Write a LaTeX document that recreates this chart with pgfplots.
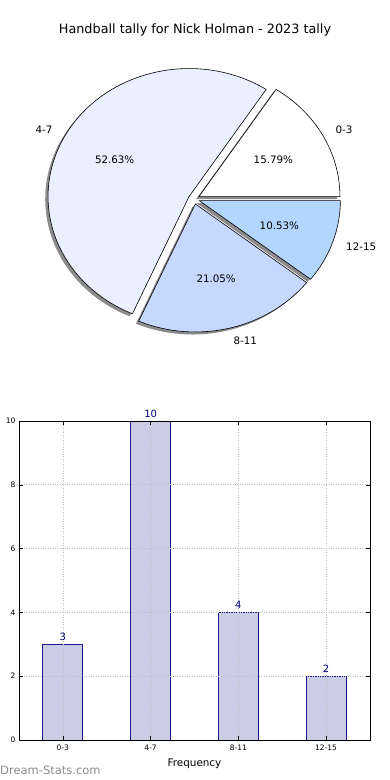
\documentclass[border=0pt]{standalone}
\usepackage{pgfplots}
\usepackage{pgfplotstable}
\pgfplotsset{compat=1.18}
\usepackage{fontspec}
\setmainfont{DejaVu Sans}

\definecolor{wA}{RGB}{255,255,255}
\definecolor{wB}{RGB}{234,240,255}
\definecolor{wC}{RGB}{198,216,255}
\definecolor{wD}{RGB}{179,214,255}
\definecolor{shadowgray}{RGB}{140,140,140}
\definecolor{barfill}{RGB}{204,204,230}
\definecolor{baredge}{RGB}{25,25,140}
\definecolor{navy}{RGB}{0,0,128}
\definecolor{wmgray}{RGB}{140,140,140}

\pgfplotstableread{
label count
0-3 3
4-7 10
8-11 4
12-15 2
}\tally

\pgfplotstablegetelem{0}{count}\of\tally \edef\nA{\pgfplotsretval}
\pgfplotstablegetelem{1}{count}\of\tally \edef\nB{\pgfplotsretval}
\pgfplotstablegetelem{2}{count}\of\tally \edef\nC{\pgfplotsretval}
\pgfplotstablegetelem{3}{count}\of\tally \edef\nD{\pgfplotsretval}
\pgfmathsetmacro\tot{\nA+\nB+\nC+\nD}
\pgfmathsetmacro\aA{360*\nA/\tot}
\pgfmathsetmacro\aB{\aA+360*\nB/\tot}
\pgfmathsetmacro\aC{\aB+360*\nC/\tot}
\pgfmathsetmacro\aD{\aC+360*\nD/\tot}

% shadow of a wedge: #1 start, #2 end
\newcommand\pieShadow[2]{%
  \fill[shadowgray] (axis cs:{0.04*cos((#1+#2)/2)-0.02},{0.04*sin((#1+#2)/2)-0.02})
    -- ++(axis direction cs:{cos(#1)},{sin(#1)})
    arc[start angle=#1,end angle=#2,x radius=141pt,y radius=128pt] -- cycle;}
% wedge: #1 start, #2 end, #3 colour, #4 label, #5 count, #6 label anchor
\newcommand\pieWedge[6]{%
  \filldraw[fill=#3,draw=black,line width=0.6pt,line join=miter] (axis cs:{0.04*cos((#1+#2)/2)},{0.04*sin((#1+#2)/2)})
    -- ++(axis direction cs:{cos(#1)},{sin(#1)})
    arc[start angle=#1,end angle=#2,x radius=141pt,y radius=128pt] -- cycle;
  \node[anchor=#6,inner sep=0pt,font=\fontsize{10.3}{12}\selectfont]
    at (axis cs:{1.14*cos((#1+#2)/2)},{1.14*sin((#1+#2)/2)}) {#4};
  \node[inner sep=0pt,font=\fontsize{10.3}{12}\selectfont]
    at (axis cs:{0.64*cos((#1+#2)/2)},{0.64*sin((#1+#2)/2)})
    {\pgfmathparse{100*#5/\tot}\pgfmathprintnumber[fixed,fixed zerofill,precision=2,assume math mode=true]{\pgfmathresult}\%};}

\begin{document}
\begin{tikzpicture}
\path[use as bounding box] (0,0) rectangle (390pt,780pt);

\node[font=\fontsize{12.8}{15}\selectfont] at (195pt,750pt) {Handball tally for Nick Holman - 2023 tally};

% ---- pie ----
\begin{axis}[at={(0pt,420pt)}, anchor=south west, scale only axis,
  width=390pt, height=320pt,
  xmin=-1.3759, xmax=1.3901, ymin=-1.2578, ymax=1.2422,
  hide axis, clip=false]
  \pieShadow{0}{\aA}
  \pieShadow{\aA}{\aB}
  \pieShadow{\aB}{\aC}
  \pieShadow{\aC}{\aD}
  \pieWedge{0}{\aA}{wA}{0-3}{\nA}{west}
  \pieWedge{\aA}{\aB}{wB}{4-7}{\nB}{east}
  \pieWedge{\aB}{\aC}{wC}{8-11}{\nC}{west}
  \pieWedge{\aC}{\aD}{wD}{12-15}{\nD}{west}
\end{axis}

% ---- bars ----
\begin{axis}[at={(19pt,40pt)}, anchor=south west, scale only axis,
  width=351pt, height=319pt,
  xmin=-0.5, xmax=3.5, ymin=0, ymax=10,
  ybar, bar width=0.456,
  xtick=data, xticklabels from table={\tally}{label},
  ytick={0,2,4,6,8,10},
  grid=major, grid style={dotted, line width=0.7pt, black!25},
  axis on top,
  tick align=inside, major tick length=4pt,
  tick style={black, line width=0.5pt},
  axis line style={black, line width=0.8pt},
  /pgf/number format/assume math mode=true,
  tick label style={font=\fontsize{7.5}{9}\selectfont},
  xticklabel style={yshift=-1.5pt},
  xlabel={Frequency},
  xlabel style={font=\fontsize{10.4}{12}\selectfont, yshift=-1pt},
  nodes near coords,
  nodes near coords style={text=navy, font=\fontsize{10}{12}\selectfont},
]
  \addplot[fill=barfill, draw=baredge, line width=0.8pt] table[x expr=\coordindex, y=count]{\tally};
\end{axis}

\node[anchor=west, inner sep=0pt, text=wmgray, font=\fontsize{11.5}{13}\selectfont] at (0pt,10pt) {Dream-Stats.com};
\end{tikzpicture}
\end{document}
